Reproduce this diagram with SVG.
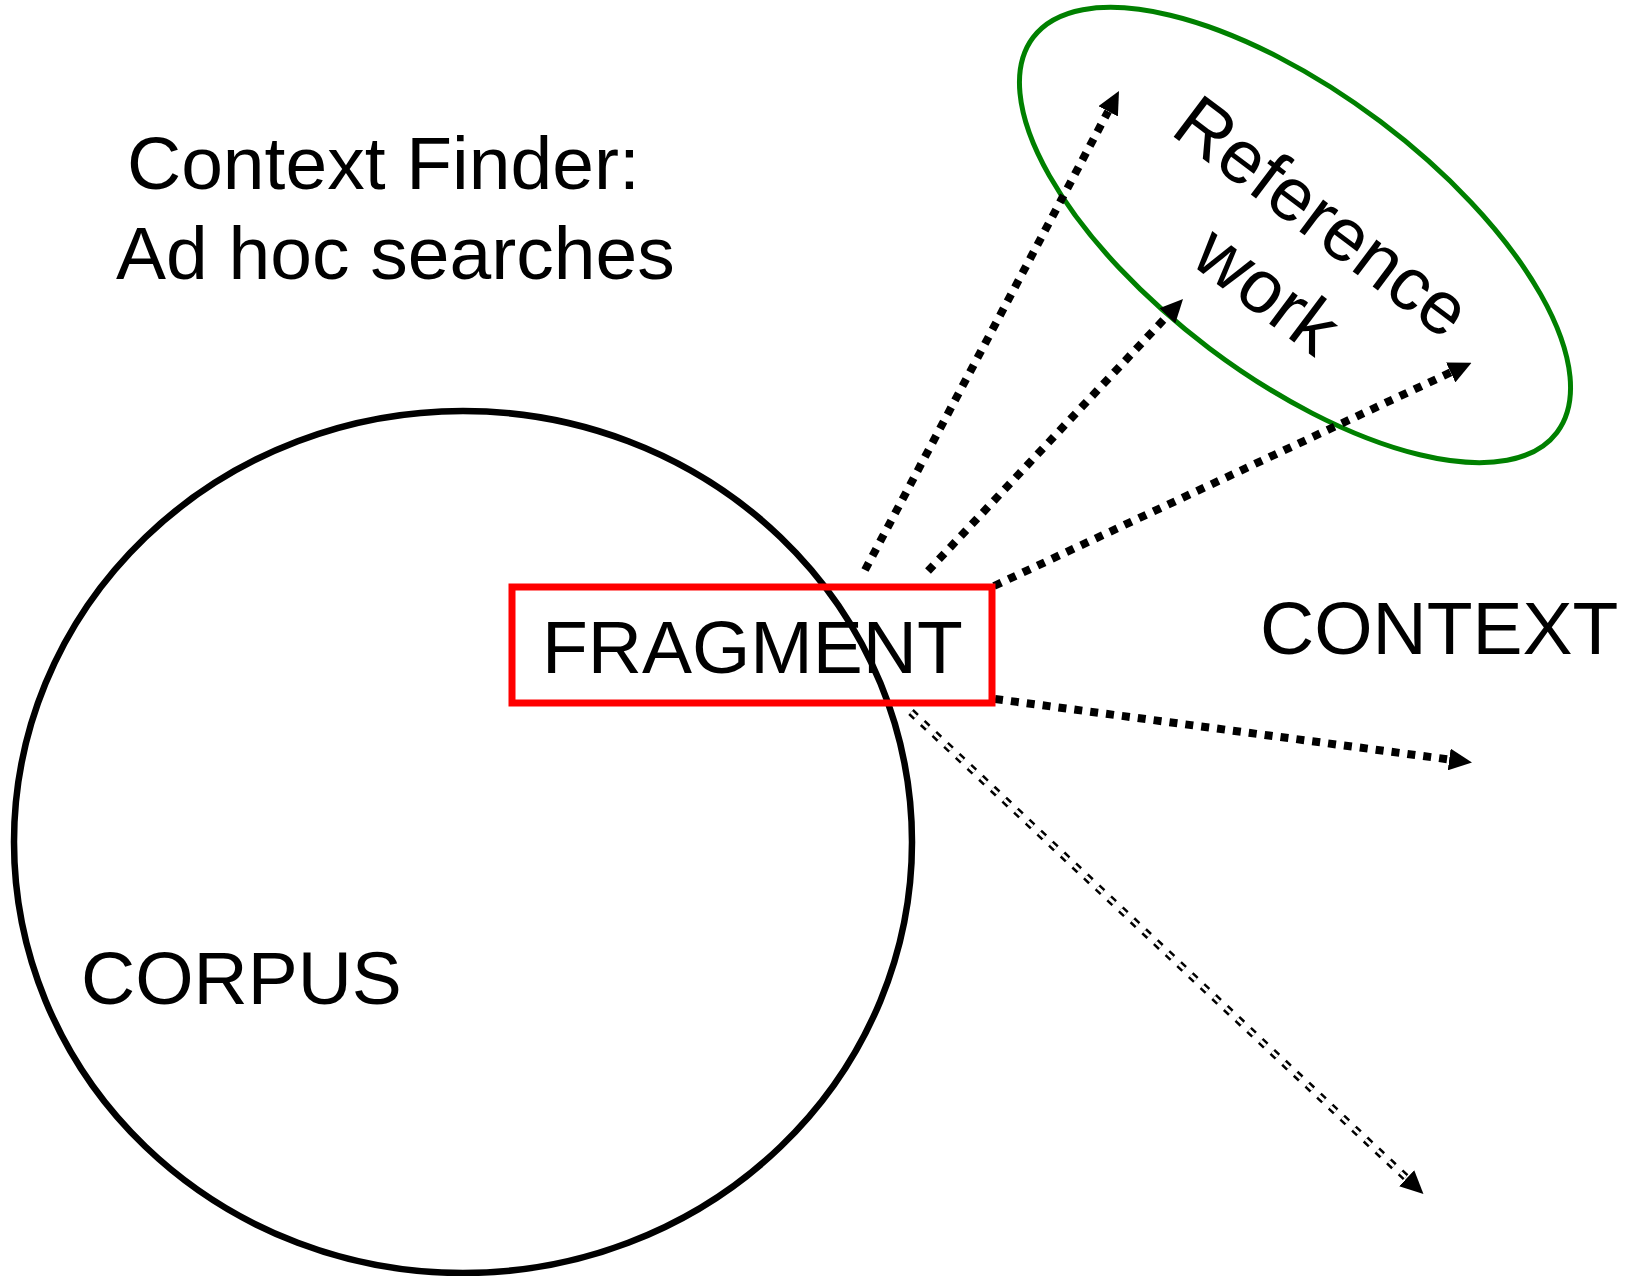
<svg xmlns="http://www.w3.org/2000/svg" width="1632" height="1276" viewBox="0 0 1632 1276">
  <style>
    .lbl { font-family: "Liberation Sans", Arial, sans-serif; font-size: 75px; fill: #000; }
    .dot { fill: none; stroke: #000; stroke-width: 8; stroke-dasharray: 8 8; }
    .dbl { fill: none; stroke: #000; stroke-width: 8; stroke-dasharray: 7 9; }
    .dblgap { fill: none; stroke: #fff; stroke-width: 3; stroke-dasharray: 7 9; }
  </style>
  <defs>
    <marker id="ah" markerUnits="userSpaceOnUse" viewBox="0 0 23 22" markerWidth="23" markerHeight="22" refX="0" refY="11" orient="auto">
      <path d="M0,0 L23,11 L0,22 Z" fill="#000"/>
    </marker>
  </defs>
  <rect width="1632" height="1276" fill="#fff"/>

  <g id="title">
    <text class="lbl" x="127" y="189">Context Finder:</text>
    <text class="lbl" x="116" y="279">Ad hoc searches</text>
  </g>

  <g id="corpus">
    <ellipse cx="463" cy="842" rx="449" ry="431" fill="none" stroke="#000" stroke-width="6.5"/>
    <text class="lbl" x="81" y="1004">CORPUS</text>
  </g>

  <g id="reference-work">
    <ellipse cx="0" cy="0" rx="328" ry="142" transform="translate(1295,235) rotate(37)" fill="none" stroke="#008000" stroke-width="5"/>
    <g transform="translate(1307,237) rotate(37)">
      <text class="lbl" x="0" y="0" text-anchor="middle">Reference</text>
      <text class="lbl" x="0" y="92" text-anchor="middle">work</text>
    </g>
  </g>

  <g id="context">
    <text class="lbl" x="1260" y="654">CONTEXT</text>
  </g>

  <g id="connectors">
    <path class="dot" d="M865,570 L1108.2,111.3" marker-end="url(#ah)"/>
    <path class="dot" d="M928,571 L1167.3,315.8" marker-end="url(#ah)"/>
    <path class="dot" d="M994,586 L1450.7,372.4" marker-end="url(#ah)"/>
    <path class="dot" d="M995,699 L1449.2,759.5" marker-end="url(#ah)"/>
    <path class="dbl" d="M911,712 L1406.7,1178.2" marker-end="url(#ah)"/>
    <path class="dblgap" d="M911,712 L1406.7,1178.2"/>
  </g>

  <g id="fragment">
    <rect x="512" y="587" width="480" height="116" fill="none" stroke="#ff0000" stroke-width="7"/>
    <text class="lbl" x="542" y="673">FRAGMENT</text>
  </g>
</svg>
